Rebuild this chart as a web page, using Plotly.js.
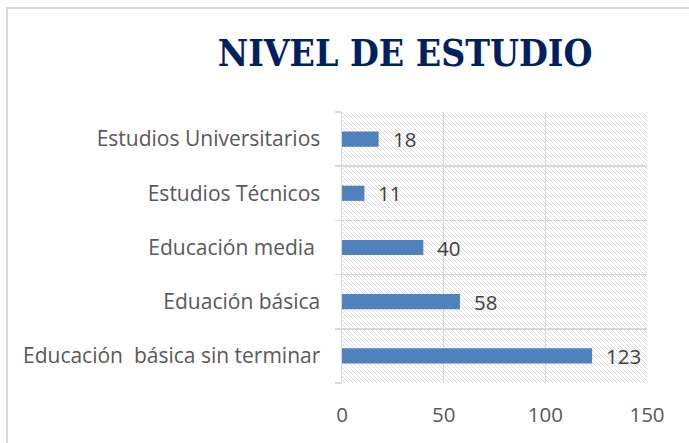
<!DOCTYPE html>
<html>
<head>
<meta charset="utf-8">
<script src="https://cdn.plot.ly/plotly-3.0.1.min.js"></script>
<style>html,body{margin:0;padding:0;background:#fff;}#chart{width:689px;height:443px;}</style>
</head>
<body>
<div id="chart"></div>
<script>
const categories = [
  "Educación\u00a0 básica sin terminar",
  "Eduación básica",
  "Educación media\u00a0",
  "Estudios Técnicos",
  "Estudios Universitarios"
];
const values = [123, 58, 40, 11, 18];
const xTicks = [0, 50, 100, 150];
const titleText = "NIVEL DE ESTUDIO";

const W = 689, H = 443;
const L = 342, R = 42, T = 112, B = 60;
const pw = W - L - R, ph = H - T - B;

const hatch = '<svg xmlns="http://www.w3.org/2000/svg" width="' + pw + '" height="' + ph + '">' +
  '<defs><pattern id="p" patternUnits="userSpaceOnUse" width="4" height="4">' +
  '<path d="M-1,-1 L5,5 M-1,3 L1,5 M3,-1 L5,1" stroke="#d2d2d2" stroke-width="0.75"/></pattern></defs>' +
  '<rect width="100%" height="100%" fill="url(#p)"/></svg>';
const hatchUri = 'data:image/svg+xml;base64,' + btoa(hatch);

const px2x = p => (p - L) / pw;
const px2y = p => (H - B - p) / ph;

const annotations = values.map((v, i) => ({
  x: v, y: categories[i], xref: 'x', yref: 'y',
  text: String(v), showarrow: false, xanchor: 'left', xshift: 12, yshift: 0,
  font: {family: '"Open Sans", sans-serif', size: 20.5, color: '#404040'}
}));

const data = [{
  type: 'bar', orientation: 'h',
  y: categories, x: values,
  marker: {color: '#4f81bd'},
  hoverinfo: 'x+y'
}];

const layout = {
  width: W, height: H,
  margin: {l: L, r: R, t: T, b: B, pad: 0},
  paper_bgcolor: '#ffffff',
  plot_bgcolor: 'rgba(0,0,0,0)',
  showlegend: false,
  bargap: 0.72,
  title: {
    text: '<b>' + titleText + '</b>',
    xref: 'container', yref: 'container',
    x: 0.588, xanchor: 'center', y: 1 - 53 / H, yanchor: 'middle',
    font: {family: '"DejaVu Serif Condensed", "DejaVu Serif", serif', size: 37, color: '#002060'}
  },
  xaxis: {
    range: [0, 150], tickvals: xTicks, ticktext: xTicks.map(String),
    showgrid: true, gridcolor: '#d9d9d9', gridwidth: 1.5,
    zeroline: false, showline: false, ticks: '',
    tickfont: {family: '"Open Sans", sans-serif', size: 20.5, color: '#595959'},
    ticklabelstandoff: 17, fixedrange: true
  },
  yaxis: {
    type: 'category', categoryorder: 'array', categoryarray: categories,
    tickson: 'boundaries', showgrid: true, gridcolor: '#d9d9d9', gridwidth: 1.5,
    showline: true, linecolor: '#d9d9d9', linewidth: 1.5,
    ticks: 'outside', ticklen: 6, tickcolor: '#d9d9d9', tickwidth: 1.5,
    tickfont: {family: '"Open Sans", sans-serif', size: 21, color: '#595959'},
    ticklabelstandoff: 16, zeroline: false, fixedrange: true
  },
  images: [{
    source: hatchUri, xref: 'paper', yref: 'paper', x: 0, y: 1,
    sizex: 1, sizey: 1, sizing: 'stretch', xanchor: 'left', yanchor: 'top', layer: 'below'
  }],
  shapes: [{
    type: 'rect', xref: 'paper', yref: 'paper',
    x0: px2x(7), x1: px2x(720), y0: px2y(470), y1: px2y(8),
    line: {color: '#d9d9d9', width: 2}, fillcolor: 'rgba(0,0,0,0)', layer: 'below'
  }],
  annotations: annotations
};

Plotly.newPlot('chart', data, layout, {displayModeBar: false, staticPlot: true});
</script>
</body>
</html>
